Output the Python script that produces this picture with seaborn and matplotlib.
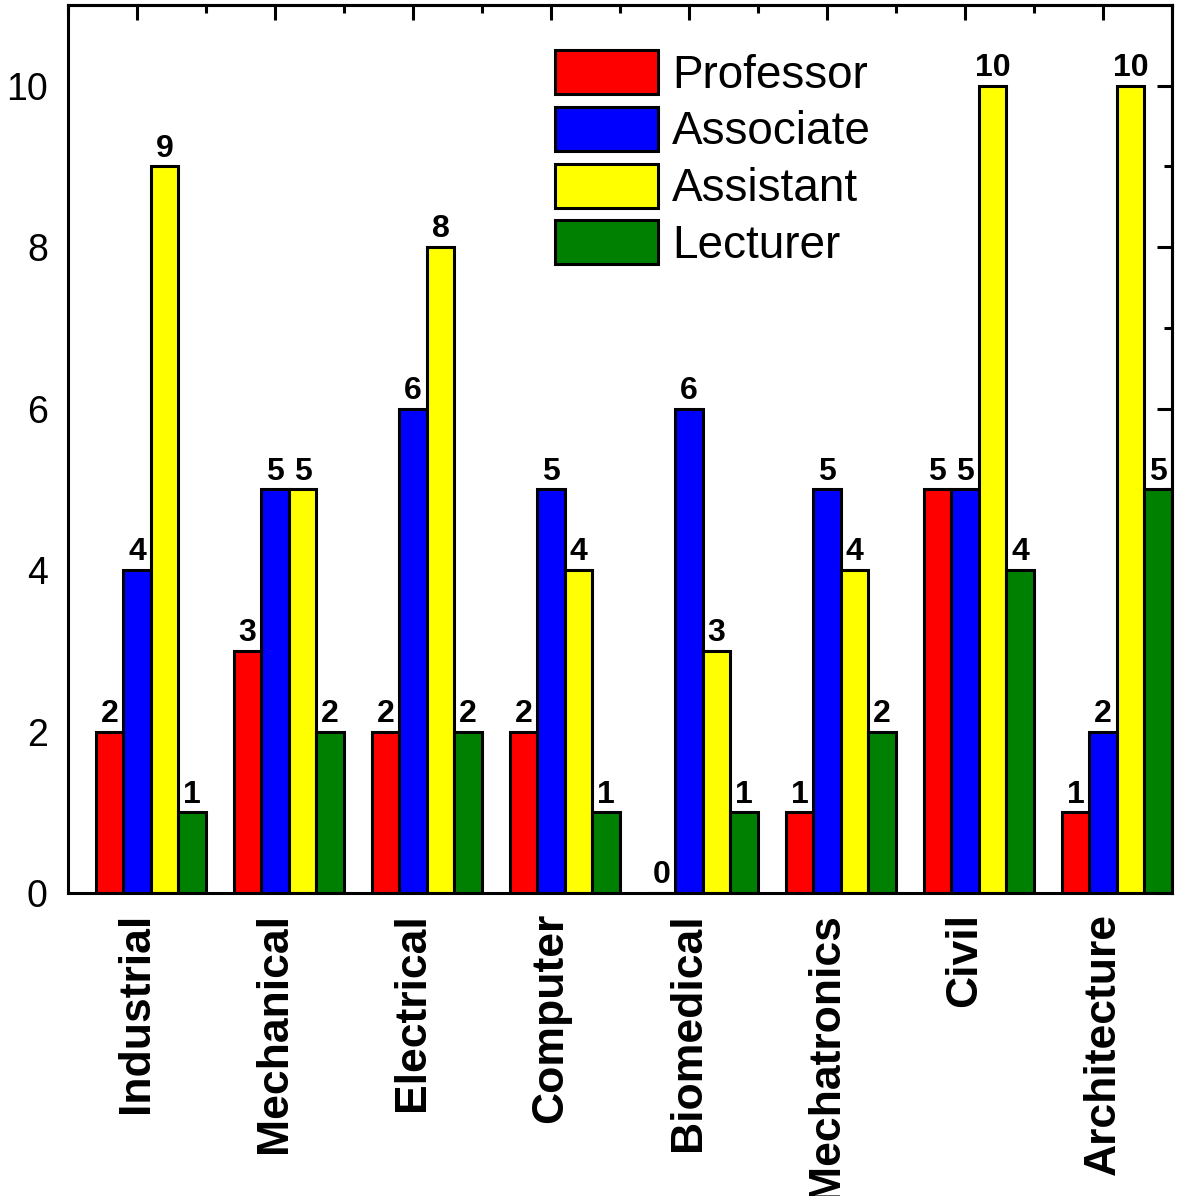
import pandas as pd
import matplotlib.pyplot as plt
import seaborn as sns

# Datos
departamentos = ["Industrial", "Mechanical", "Electrical", "Computer",
                 "Biomedical", "Mechatronics", "Civil", "Architecture"]
rangos = ["Professor", "Associate", "Assistant", "Lecturer"]
professor = [2, 3, 2, 2, 0, 1, 5, 1]
associate = [4, 5, 6, 5, 6, 5, 5, 2]
assistant = [9, 5, 8, 4, 3, 4, 10, 10]
lecturer = [1, 2, 2, 1, 1, 2, 4, 5]
colores = ["#FF0000", "#0000FF", "#FFFF00", "#008000"]

# Tabla larga para seaborn
df = pd.DataFrame({
    "dept": departamentos * 4,
    "rango": [r for r in rangos for _ in departamentos],
    "n": professor + associate + assistant + lecturer,
})

sns.set_theme(style="white")
plt.rcParams['font.family'] = ['Liberation Sans', 'DejaVu Sans']
plt.rcParams['text.color'] = 'black'
plt.rcParams['xtick.color'] = 'black'
plt.rcParams['ytick.color'] = 'black'

fig = plt.figure(figsize=(11.78, 11.96), dpi=100)
ax = fig.add_axes([0.0577, 0.2533, 0.9372, 0.7425])

sns.barplot(data=df, x="dept", y="n", hue="rango", order=departamentos,
            hue_order=rangos, palette=colores, width=0.8, saturation=1,
            edgecolor="black", linewidth=2.2, ax=ax)

# Etiquetas sobre las barras
for cont in ax.containers:
    ax.bar_label(cont, fontsize=23, fontweight="bold", padding=2, color="black")

# Ejes: las barras estan desplazadas respecto a la marca central
ax.set_xlim(-0.6, 7.4)
ax.set_ylim(0, 11)
centros = [i - 0.1 for i in range(len(departamentos))]
bordes = [i - 0.6 for i in range(len(departamentos) + 1)]
ax.set_xticks(centros)
ax.set_xticklabels(departamentos, rotation=90, fontsize=32, fontweight="bold")
ax.set_xticks(bordes, minor=True)
ax.set_yticks(range(0, 11, 2))
ax.set_yticks(range(1, 11, 2), minor=True)
ax.tick_params(axis="y", labelsize=27, labelcolor="black")
ax.tick_params(axis="x", labelcolor="black")
ax.tick_params(which="major", direction="out", length=11, width=2.2, color="black")
ax.tick_params(which="minor", direction="out", length=5.5, width=2.2, color="black")
ax.set_xlabel("")
ax.set_ylabel("")
for s in ax.spines.values():
    s.set_linewidth(2.2)
    s.set_color("black")

# Marcas hacia dentro en los lados superior y derecho
top = ax.secondary_xaxis("top")
top.set_xticks(centros)
top.set_xticks(bordes, minor=True)
top.tick_params(which="major", direction="in", length=11, width=2.2, labeltop=False)
top.tick_params(which="minor", direction="in", length=5.5, width=2.2)
top.spines["top"].set_linewidth(2.2)
right = ax.secondary_yaxis("right")
right.set_yticks(range(0, 11, 2))
right.set_yticks(range(1, 11, 2), minor=True)
right.tick_params(which="major", direction="in", length=11, width=2.2, labelright=False)
right.tick_params(which="minor", direction="in", length=5.5, width=2.2)
right.spines["right"].set_linewidth(2.2)

# Leyenda
handles, labels = ax.get_legend_handles_labels()
leg = ax.legend(handles, labels, loc="upper left",
                bbox_to_anchor=(555 / 1178, 1 - 50 / 1196),
                bbox_transform=fig.transFigure, frameon=False, fontsize=33,
                handlelength=2.25, handleheight=1.1, labelspacing=0.2,
                handletextpad=0.3, borderpad=0, borderaxespad=0)
for p in leg.get_patches():
    p.set_edgecolor("black")
    p.set_linewidth(2.2)

fig.savefig("out.png", dpi=100)
